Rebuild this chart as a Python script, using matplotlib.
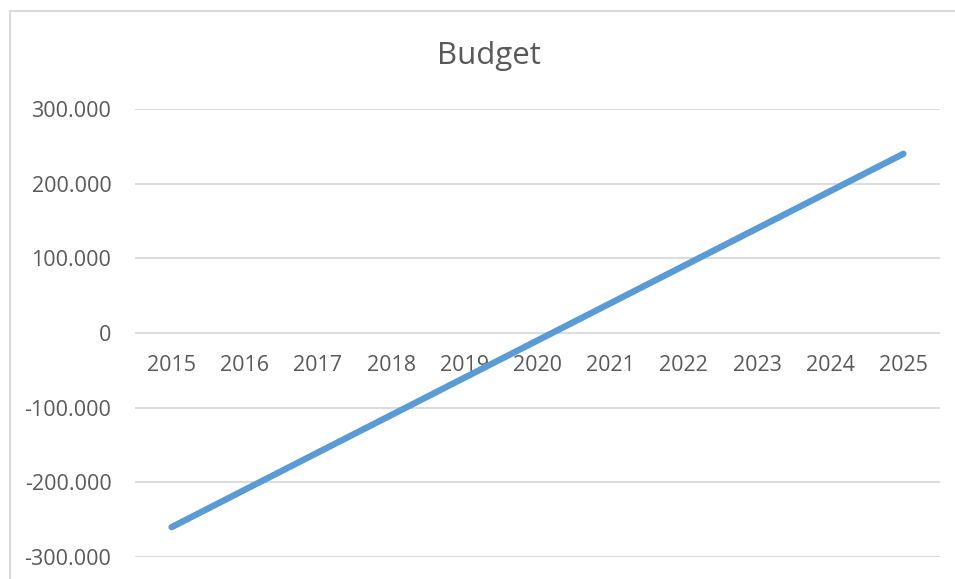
import matplotlib.pyplot as plt
from matplotlib.lines import Line2D
from matplotlib.ticker import FuncFormatter

years = [2015, 2016, 2017, 2018, 2019, 2020, 2021, 2022, 2023, 2024, 2025]
budget = [-260000, -210000, -160000, -110000, -60000, -10000,
          40000, 90000, 140000, 190000, 240000]
y_ticks = [-300000, -200000, -100000, 0, 100000, 200000, 300000]

W, H = 955, 579
fig = plt.figure(figsize=(W / 100, H / 100), dpi=100)
ax = fig.add_axes([135 / W, 1 - 557 / H, 805 / W, (557 - 109) / H])

x = list(range(len(years)))
ax.plot(x, budget, color="#5b9bd5", lw=4.6, solid_capstyle="round", zorder=3)

ax.set_xlim(-0.5, len(years) - 0.5)
ax.set_ylim(-300000, 300000)
ax.set_yticks(y_ticks)
ax.yaxis.set_major_formatter(FuncFormatter(lambda v, p: f"{v:,.0f}".replace(",", ".")))
ax.grid(axis="y", color="#d9d9d9", lw=1.3)
ax.set_axisbelow(True)

for s in ax.spines.values():
    s.set_visible(False)
ax.spines["bottom"].set_position(("data", 0))

ax.set_xticks(x)
ax.set_xticklabels([str(y) for y in years])
ax.tick_params(axis="x", length=0, pad=15.5, labelsize=15.5, labelcolor="#595959")
ax.tick_params(axis="y", length=0, pad=17, labelsize=15.5, labelcolor="#595959")
for lab in ax.get_xticklabels() + ax.get_yticklabels():
    lab.set_fontfamily("Open Sans")

fig.text(489 / W, 1 - 56 / H, "Budget", ha="center", va="center",
         fontsize=22.5, color="#595959", fontfamily="Open Sans")

# chart border (partly outside the image)
fig.add_artist(Line2D([9.5 / W, 9.5 / W], [0, 1 - 10.5 / H], transform=fig.transFigure,
                      color="#d9d9d9", lw=1.5))
fig.add_artist(Line2D([9.5 / W, 1], [1 - 10.5 / H, 1 - 10.5 / H], transform=fig.transFigure,
                      color="#d9d9d9", lw=1.5))

fig.savefig("out.png", dpi=100)
